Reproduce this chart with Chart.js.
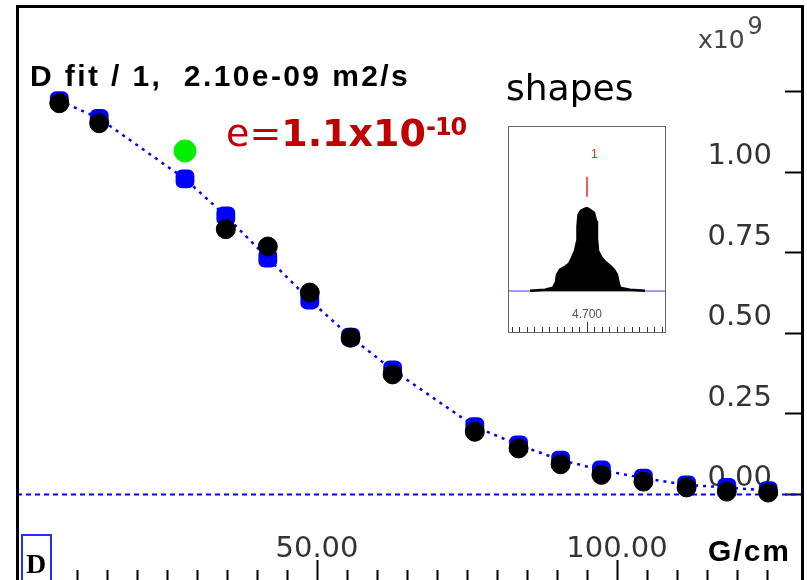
<!DOCTYPE html>
<html lang="en">
<head>
<meta charset="UTF-8">
<title>D fit</title>
<script src="https://cdn.jsdelivr.net/npm/chart.js"></script>
<style>
  body { margin: 0; background: #fff; }
  .wrap { position: relative; width: 807px; height: 580px; overflow: hidden; background: #fff; }
  #plot { position: absolute; left: 0; top: 0; }
  .frame { position: absolute; left: 16px; top: 5px; width: 782px; height: 600px;
           border: 3px solid #000; border-bottom: none; pointer-events: none; }
  .txt { position: absolute; white-space: nowrap; line-height: 1; }
  .title { left: 30px; top: 58.6px; font: bold 30px "Liberation Sans", Arial, sans-serif; letter-spacing: 2.4px; color: #000; }
  .err { left: 226px; top: 110.5px; font: 38px "DejaVu Sans", sans-serif; color: #c00000; }
  .err b { font-weight: bold; }
  .err sup { font-size: 24px; font-weight: bold; vertical-align: baseline; position: relative; top: -11px; letter-spacing: -1px; }
  .shapes { left: 506px; top: 66.5px; font: 36px "DejaVu Sans", sans-serif; color: #000; }
  .mult { left: 698px; top: 25px; font: 25px "DejaVu Sans", sans-serif; color: #444; }
  .mult sup { font-size: 24px; vertical-align: baseline; position: relative; top: -14px; margin-left: 3px; }
  .unit { right: 16px; top: 533.5px; font: bold 30px "Liberation Sans", Arial, sans-serif; letter-spacing: 2px; color: #000; }
  .dbox { position: absolute; left: 21px; top: 534px; width: 27px; height: 60px; border: 2px solid #1f2fff; background: #fff; }
  .dbox span { position: absolute; left: 3px; top: 14px; font: bold 28px "Liberation Serif", serif; color: #000; line-height: 1; }
  .inset { position: absolute; left: 508px; top: 126px; width: 156px; height: 205px; border: 1px solid #666; background: #fff; }
  #shape { position: absolute; left: 0; top: 0; }
  .peaknum { position: absolute; left: 82px; top: 21px; font: 12px "Liberation Sans", Arial, sans-serif; color: #ff2020; line-height: 1; }
</style>
</head>
<body>
<div class="wrap">
  <canvas id="plot" width="807" height="580"></canvas>
  <div class="frame"></div>
  <div class="txt title">D fit / 1,&nbsp; 2.10e-09 m2/s</div>
  <div class="txt err">e=<b>1.1x10</b><sup>-10</sup></div>
  <div class="txt shapes">shapes</div>
  <div class="txt mult">x10<sup>9</sup></div>
  <div class="txt unit">G/cm</div>
  <div class="dbox"><span>D</span></div>
  <div class="inset">
    <canvas id="shape" width="156" height="205"></canvas>
    <div class="peaknum">1</div>
  </div>
</div>
<script>
  // gradient strength (G/cm) and signal (x10^9)
  var gradients = [7.05, 13.7, 28.0, 34.8, 41.8, 48.8, 55.6, 62.6, 76.3, 83.6, 90.6, 97.4, 104.4, 111.6, 118.3, 125.2]
  var measured  = [1.215, 1.153, 1.067, 0.824, 0.770, 0.627, 0.487, 0.373, 0.195, 0.143, 0.094, 0.061, 0.040, 0.022, 0.009, 0.006]
  var fitted    = [1.223, 1.168, 0.980, 0.865, 0.734, 0.604, 0.489, 0.387, 0.211, 0.154, 0.107, 0.076, 0.051, 0.030, 0.022, 0.012]
  var selected  = 2   // point shown in green
  var yTicks    = [0, 0.25, 0.5, 0.75, 1.0, 1.25]
  var xLabels   = [50, 100]

  // peak shape for the small preview (ppm, relative height)
  var shapePpm    = [4.776, 4.756, 4.7453, 4.7413, 4.740, 4.736, 4.7293, 4.724, 4.720, 4.716, 4.7133, 4.7127, 4.7113, 4.708, 4.7027, 4.700, 4.696, 4.6907, 4.688, 4.6867, 4.6853, 4.6813, 4.676, 4.6693, 4.664, 4.660, 4.658, 4.656, 4.6427, 4.6227]
  var shapeHeight = [0.004, 0.016, 0.040, 0.112, 0.196, 0.256, 0.292, 0.329, 0.401, 0.485, 0.593, 0.774, 0.919, 0.967, 0.992, 1.0, 0.980, 0.943, 0.847, 0.630, 0.486, 0.413, 0.353, 0.305, 0.257, 0.196, 0.100, 0.040, 0.016, 0.004]
  var peakPpm = 4.700
  var peakMark = [1.136, 1.377]

  var fitPts = [], blackPts = [], greenPts = []
  for (var i = 0; i < gradients.length; i++) {
    fitPts.push({ x: gradients[i], y: fitted[i] })
    if (i === selected) greenPts.push({ x: gradients[i], y: measured[i] })
    else blackPts.push({ x: gradients[i], y: measured[i] })
  }

  var tickFont = { family: 'DejaVu Sans', size: 29 }

  // keep the plot area flush with the frame
  function noPad(s) {
    s.paddingTop = 0; s.paddingBottom = 0; s.paddingLeft = 0; s.paddingRight = 0
  }

  new Chart(document.getElementById('plot'), {
    type: 'scatter',
    data: {
      datasets: [
        { data: greenPts, backgroundColor: '#00ee00', borderColor: '#00ee00', pointRadius: 11, pointStyle: 'circle' },
        { data: blackPts, backgroundColor: '#000', borderColor: '#000', pointRadius: 9.5, pointStyle: 'circle' },
        { data: fitPts, showLine: true, borderColor: '#0000ff', borderWidth: 2.5, borderDash: [3, 5],
          backgroundColor: '#0000ff', pointBorderColor: '#0000ff', pointRadius: 9.5, pointStyle: 'rectRounded' },
        { data: [{ x: 0, y: 0 }, { x: 131, y: 0 }], showLine: true, clip: false, borderColor: '#0000ff',
          borderWidth: 2, borderDash: [5, 4], pointRadius: 0 }
      ]
    },
    options: {
      responsive: false,
      animation: false,
      layout: { autoPadding: false, padding: { left: 17, top: 6, right: 5, bottom: 0 } },
      plugins: { legend: { display: false }, tooltip: { enabled: false } },
      scales: {
        x: {
          type: 'linear', position: 'bottom', min: 0, max: 128,
          afterFit: function (s) { s.height = 20; noPad(s) },
          border: { display: false },
          grid: {
            drawOnChartArea: false, tickLength: 20, tickColor: '#000', tickWidth: 2,
            tickBorderDash: function (ctx) {
              return ctx.tick && ctx.tick.value % 50 === 0 ? [] : [0, 10, 10, 0]
            }
          },
          ticks: {
            stepSize: 5, includeBounds: false, autoSkip: false, maxRotation: 0,
            mirror: true, padding: 3, font: { family: 'DejaVu Sans', size: 29, lineHeight: 0.52 }, color: '#333',
            callback: function (v) { return xLabels.indexOf(v) >= 0 ? v.toFixed(2) : '' }
          }
        },
        y: {
          type: 'linear', position: 'right', min: -0.2034, max: 1.517,
          afterFit: function (s) { s.width = 17; noPad(s) },
          afterBuildTicks: function (s) {
            s.ticks = yTicks.map(function (v) { return { value: v } })
          },
          border: { display: false },
          grid: { drawOnChartArea: false, tickLength: 17, tickColor: '#000', tickWidth: 2 },
          ticks: {
            mirror: true, padding: -13, labelOffset: -16, font: tickFont, color: '#333',
            callback: function (v) { return v <= 1.001 ? v.toFixed(2) : '' }
          }
        }
      }
    }
  })

  // small preview of the peak used for the fit
  var shapePts = shapePpm.map(function (p, i) { return { x: p, y: shapeHeight[i] } })

  new Chart(document.getElementById('shape'), {
    type: 'scatter',
    data: {
      datasets: [
        { data: [{ x: peakPpm, y: peakMark[0] }, { x: peakPpm, y: peakMark[1] }], showLine: true,
          borderColor: '#ff2020', borderWidth: 1.5, pointRadius: 0 },
        { data: shapePts, showLine: true, fill: 'origin', borderColor: '#000', backgroundColor: '#000',
          borderWidth: 2.5, pointRadius: 0 },
        { data: [{ x: 4.804, y: 0 }, { x: 4.596, y: 0 }], showLine: true, borderColor: '#3a3aff',
          borderWidth: 1, pointRadius: 0 }
      ]
    },
    options: {
      responsive: false,
      animation: false,
      layout: { autoPadding: false, padding: 0 },
      plugins: { legend: { display: false }, tooltip: { enabled: false } },
      scales: {
        x: {
          type: 'linear', reverse: true, min: 4.596, max: 4.804,
          afterFit: function (s) { s.height = 10; noPad(s) },
          afterBuildTicks: function (s) {
            s.ticks = s.ticks.filter(function (t) {
              return Math.abs(t.value * 100 - Math.round(t.value * 100)) < 1e-6
            })
          },
          border: { display: false },
          grid: {
            drawOnChartArea: false, tickLength: 10, tickColor: '#333', tickWidth: 1,
            tickBorderDash: function (ctx) {
              return ctx.tick && Math.abs(ctx.tick.value - peakPpm) < 1e-6 ? [] : [0, 5, 5, 0]
            }
          },
          ticks: {
            stepSize: 0.01, includeBounds: false, autoSkip: false, maxRotation: 0,
            mirror: true, padding: 0, font: { family: 'Liberation Sans', size: 12 }, color: '#555',
            callback: function (v) { return Math.abs(v - peakPpm) < 1e-6 ? v.toFixed(3) : '' }
          }
        },
        y: { display: false, min: -0.373, max: 1.976 }
      }
    }
  })
</script>
</body>
</html>
